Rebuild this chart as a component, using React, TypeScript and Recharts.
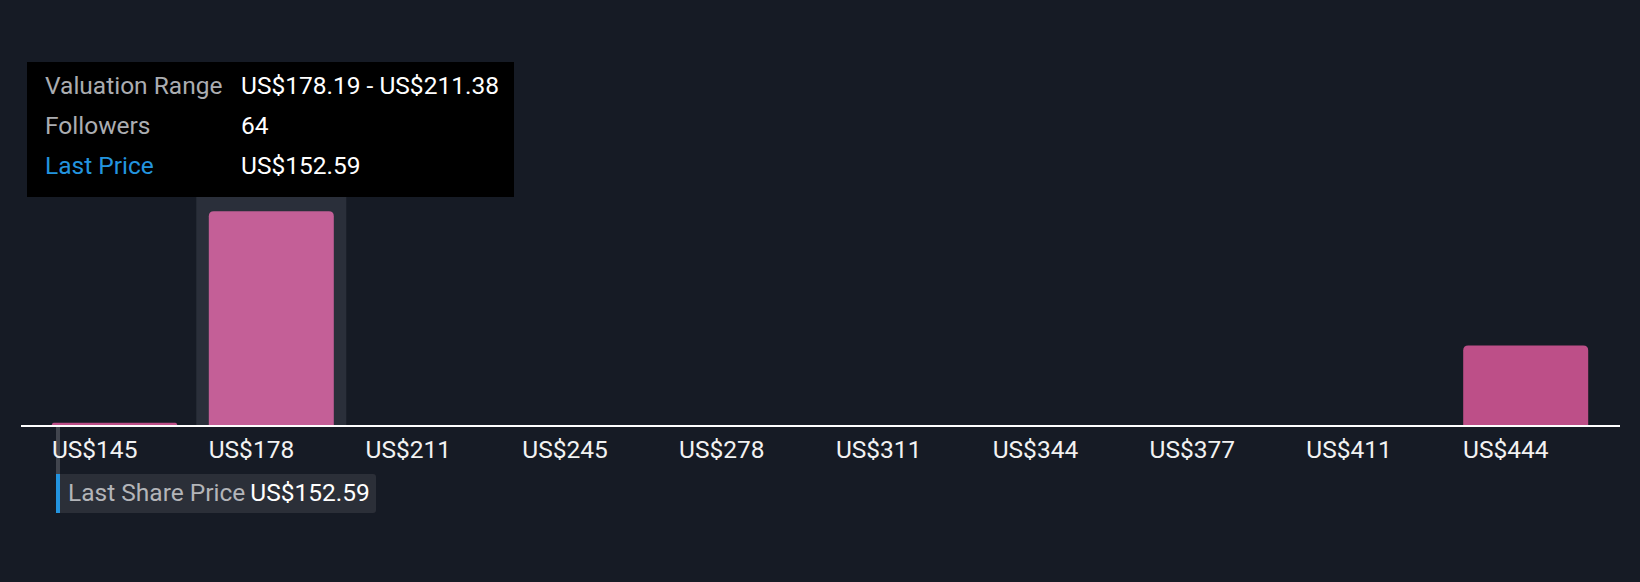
import React from "react";
import { BarChart, Bar, XAxis, YAxis, Tooltip, ReferenceLine, Cell } from "recharts";

const binLabels = ["US$145", "US$178", "US$211", "US$245", "US$278", "US$311", "US$344", "US$377", "US$411", "US$444"];
const binLow = [145.0, 178.19, 211.38, 244.57, 277.76, 310.95, 344.14, 377.33, 410.52, 443.71];
const binHigh = [178.19, 211.38, 244.57, 277.76, 310.95, 344.14, 377.33, 410.52, 443.71, 476.9];
const followers = [1, 64, 0, 0, 0, 0, 0, 0, 0, 24];
const lastPrice = 152.59;
const activeIndex = 1;

const data = binLabels.map((label, i) => ({
  label,
  low: binLow[i],
  high: binHigh[i],
  followers: followers[i],
}));

const W = 1640;
const H = 582;
const BAR_SIZE = 125;
const AXIS_H = 30;
const FONT = "Roboto, 'Noto Sans', sans-serif";
const FS = 24.5;
const BG = "#161b25";
const BAR = "#bd4f88";
const BAR_ACTIVE = "#c45f97";
const HILITE = "#2a2f3a";
const BLUE = "#2394df";

const fmt = (v: number) => `US$${v.toFixed(2)}`;

const BarShape = (props: any) => {
  const { x, y, width, height, fill, index, background } = props;
  const r = Math.min(5, Math.max(0, height) / 2, width / 2);
  const els: React.ReactNode[] = [];
  if (index === activeIndex && background) {
    const hw = width + 25;
    els.push(
      <rect key="hl" x={x + width / 2 - hw / 2} y={background.y} width={hw} height={background.height} fill={HILITE} />
    );
  }
  if (height > 0) {
    const path = `M${x},${y + height} L${x},${y + r} Q${x},${y} ${x + r},${y} L${x + width - r},${y} Q${x + width},${y} ${x + width},${y + r} L${x + width},${y + height} Z`;
    els.push(<path key="b" d={path} fill={fill} />);
  }
  return <g>{els}</g>;
};

const Tick = (props: any) => {
  const { x, y, payload } = props;
  return (
    <text x={x - BAR_SIZE / 2} y={y} dy={24} textAnchor="start" fill="#f2f2f2" fontSize={FS} fontFamily={FONT}>
      {payload.value}
    </text>
  );
};

const PriceMarker = (props: any) => {
  const { x1, y1, y2 } = props;
  if (x1 == null) return null;
  const lx = x1 + 22;
  const top = Math.max(y1, y2) + 1;
  const boxTop = top + 47;
  return (
    <g>
      <rect x={lx - 2} y={top} width={4} height={boxTop - top} fill="#41454e" />
      <rect x={lx - 2} y={boxTop} width={320} height={39} rx={3} fill="#2b2f38" />
      <rect x={lx - 2} y={boxTop} width={4} height={39} fill={BLUE} />
      <text x={lx + 10} y={boxTop + 27} fontSize={FS} fontFamily={FONT}>
        <tspan fill="#b3b5b9">Last Share Price</tspan>
        <tspan fill="#ffffff" dx={5}>{fmt(lastPrice)}</tspan>
      </text>
    </g>
  );
};

const TooltipContent = (props: any) => {
  const { payload } = props;
  if (!payload || !payload.length) return null;
  const row = payload[0].payload;
  const rowStyle: React.CSSProperties = { display: "flex", height: 40, lineHeight: "40px" };
  const labStyle: React.CSSProperties = { width: 196, flexShrink: 0, color: "#abadb1" };
  return (
    <div
      style={{
        width: 487,
        height: 135,
        boxSizing: "border-box",
        background: "#000",
        padding: "4px 0 0 18px",
        fontFamily: FONT,
        fontSize: FS,
        color: "#fff",
        whiteSpace: "nowrap",
        overflow: "hidden",
      }}
    >
      <div style={rowStyle}>
        <span style={labStyle}>Valuation Range</span>
        <span>{`${fmt(row.low)} - ${fmt(row.high)}`}</span>
      </div>
      <div style={rowStyle}>
        <span style={labStyle}>Followers</span>
        <span>{row.followers}</span>
      </div>
      <div style={rowStyle}>
        <span style={{ ...labStyle, color: BLUE }}>Last Price</span>
        <span>{fmt(lastPrice)}</span>
      </div>
    </div>
  );
};

export default function App() {
  return (
    <div style={{ position: "fixed", left: 0, top: 0, width: W, height: H, background: BG }}>
      <BarChart
        width={W}
        height={H}
        data={data}
        margin={{ top: 191, right: 20, bottom: H - 426 - AXIS_H, left: 21 }}
        barSize={BAR_SIZE}
      >
        <XAxis
          dataKey="label"
          height={AXIS_H}
          padding={{ left: 15, right: 16 }}
          axisLine={{ stroke: "#ffffff", strokeWidth: 2 }}
          tickLine={false}
          tick={<Tick />}
          interval={0}
        />
        <YAxis hide domain={[0, 70]} />
        <Tooltip
          defaultIndex={activeIndex}
          active
          cursor={false}
          position={{ x: 27, y: 62 }}
          content={<TooltipContent />}
          isAnimationActive={false}
          wrapperStyle={{ outline: "none" }}
        />
        <Bar dataKey="followers" shape={<BarShape />} isAnimationActive={false}>
          {data.map((d, i) => (
            <Cell key={d.label} fill={i === activeIndex ? BAR_ACTIVE : BAR} />
          ))}
        </Bar>
        <ReferenceLine
          x={binLabels[0]}
          position="start"
          stroke="none"
          ifOverflow="visible"
          shape={<PriceMarker />}
        />
      </BarChart>
    </div>
  );
}
